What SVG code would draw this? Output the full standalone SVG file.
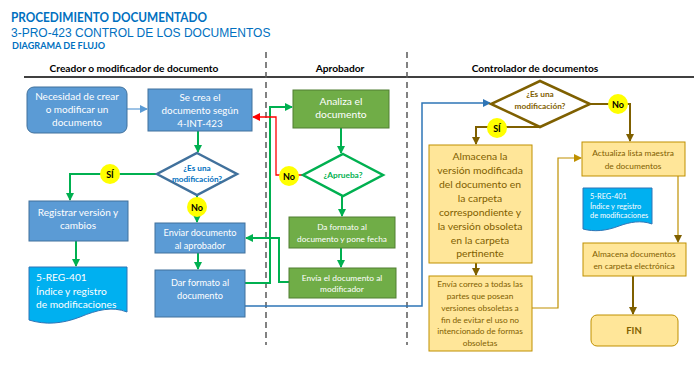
<svg xmlns="http://www.w3.org/2000/svg" width="700" height="367" viewBox="0 0 700 367">
<defs>
<style>
text{font-family:Lato,"Liberation Sans",sans-serif}
.hd{font-weight:bold;font-size:10.2px;fill:#000;text-anchor:middle}
.wt{fill:#fff;text-anchor:middle}
.br{fill:#7F6000;text-anchor:middle}
.bbox{fill:#5B9BD5;stroke:#41719C;stroke-width:1}
.gbox{fill:#70AD47;stroke:#507E32;stroke-width:1}
.ybox{fill:#FFE699;stroke:#BF9000;stroke-width:1}
.doc{fill:#00B0F0;stroke:#2E75B6;stroke-width:1}
.yc{fill:#FFFF00}
.lbl{font-weight:bold;font-size:9px;fill:#000;text-anchor:middle}
.g{fill:none;stroke:#00B050;stroke-width:2}
.r{fill:none;stroke:#FF0000;stroke-width:1.3}
.b{fill:none;stroke:#2E75B6;stroke-width:1.5}
.bl{fill:none;stroke:#5B9BD5;stroke-width:1.2}
.k{fill:none;stroke:#7F6000;stroke-width:2}
.kt{fill:none;stroke:#BF9000;stroke-width:1.2}
.dash{stroke:#595959;stroke-width:1.5;stroke-dasharray:6,4}
</style>
<marker id="ag" markerWidth="8" markerHeight="8" refX="7" refY="4" orient="auto" markerUnits="userSpaceOnUse"><path d="M0,0 L8,4 L0,8 Z" fill="#00B050"/></marker>
<marker id="ar" markerWidth="8" markerHeight="8" refX="7" refY="4" orient="auto" markerUnits="userSpaceOnUse"><path d="M0,0 L8,4 L0,8 Z" fill="#FF0000"/></marker>
<marker id="ab" markerWidth="8" markerHeight="8" refX="7" refY="4" orient="auto" markerUnits="userSpaceOnUse"><path d="M0,0 L8,4 L0,8 Z" fill="#2E75B6"/></marker>
<marker id="abl" markerWidth="8" markerHeight="8" refX="7" refY="4" orient="auto" markerUnits="userSpaceOnUse"><path d="M0,0 L8,4 L0,8 Z" fill="#5B9BD5"/></marker>
<marker id="ak" markerWidth="8" markerHeight="8" refX="7" refY="4" orient="auto" markerUnits="userSpaceOnUse"><path d="M0,0 L8,4 L0,8 Z" fill="#7F6000"/></marker>
<marker id="akt" markerWidth="8" markerHeight="8" refX="7" refY="4" orient="auto" markerUnits="userSpaceOnUse"><path d="M0,0 L8,4 L0,8 Z" fill="#BF9000"/></marker>
</defs>
<rect width="700" height="367" fill="#fff"/>

<g id="header">
<text x="11" y="21.5" textLength="196" lengthAdjust="spacingAndGlyphs" style="font-weight:bold;font-size:14px;fill:#0070C0">PROCEDIMIENTO DOCUMENTADO</text>
<text x="11" y="37" style="font-family:'Liberation Sans',sans-serif;font-size:12px;fill:#0070C0">3-PRO-423 CONTROL DE LOS DOCUMENTOS</text>
<text x="12" y="48.5" textLength="93" lengthAdjust="spacingAndGlyphs" style="font-weight:bold;font-size:10px;fill:#0070C0">DIAGRAMA DE FLUJO</text>
</g>

<g id="lanes">
<text class="hd" x="134" y="72">Creador o modificador de documento</text>
<text class="hd" x="340" y="72">Aprobador</text>
<text class="hd" x="535" y="72">Controlador de documentos</text>
<line x1="24" y1="77" x2="694" y2="77" stroke="#000" stroke-width="1.5"/>
<line class="dash" x1="266" y1="52" x2="266" y2="345"/>
<line class="dash" x1="407" y1="52" x2="407" y2="345"/>
</g>

<g id="connectors">
<path class="bl" d="M127,109 H147" marker-end="url(#abl)"/>
<path class="g" d="M198,131 V152" marker-end="url(#ag)"/>
<path class="g" d="M157,174 H70 V200" marker-end="url(#ag)"/>
<path class="g" d="M76,241 V266" stroke-width="2.5" marker-end="url(#ag)"/>
<path class="g" d="M197,195 V222" marker-end="url(#ag)"/>
<path class="g" d="M198,253 V269" stroke="#5CD07C" stroke-width="1.5" marker-end="url(#ag)"/>
<path class="g" d="M245,283 H270 V107 H292" marker-end="url(#ag)"/>
<path class="g" d="M341,128 V153" marker-end="url(#ag)"/>
<path class="r" d="M303,175 H276 V117 H253" marker-end="url(#ar)"/>
<path class="g" d="M342,196 V216" marker-end="url(#ag)"/>
<path class="g" d="M341,248 V267" marker-end="url(#ag)"/>
<path class="g" d="M289,282 H279 V238 H246" marker-end="url(#ag)"/>
<path class="b" d="M245,306 H422 V103 H490" marker-end="url(#ab)"/>
<path class="k" d="M590,104 H630 V141" marker-end="url(#ak)"/>
<path class="k" d="M540,127 H476 V144" marker-end="url(#ak)"/>
<path class="k" d="M476,263 V275" marker-end="url(#ak)"/>
<path class="kt" d="M532,308 H558 V158 H581" marker-end="url(#akt)"/>
<path class="kt" d="M678,176 V242" stroke="#7F6000" marker-end="url(#ak)"/>
<path class="k" d="M633,276 V314" marker-end="url(#ak)"/>
</g>

<g id="lbl-si1"><circle class="yc" cx="110" cy="174" r="10"/><text class="lbl" x="110" y="177.5">SÍ</text></g>
<g id="lbl-no1"><circle class="yc" cx="197" cy="207" r="10"/><text class="lbl" x="197" y="210.5">No</text></g>
<g id="lbl-no2"><circle class="yc" cx="289" cy="176" r="10"/><text class="lbl" x="289" y="179.5">No</text></g>
<g id="lbl-no3"><circle class="yc" cx="618" cy="104" r="10"/><text class="lbl" x="618" y="107.5">No</text></g>
<g id="lbl-si2"><circle class="yc" cx="497" cy="128" r="10"/><text class="lbl" x="497" y="131.5">SÍ</text></g>

<g id="n-necesidad">
<rect class="bbox" x="27" y="87" width="100" height="46" rx="7"/>
<text class="wt" style="font-size:10px"><tspan x="77" y="100">Necesidad de crear</tspan><tspan x="77" y="113">o modificar un</tspan><tspan x="77" y="126">documento</tspan></text>
</g>
<g id="n-secrea">
<rect class="bbox" x="148" y="89" width="104" height="42"/>
<text class="wt" style="font-size:9.8px"><tspan x="200" y="101">Se crea el</tspan><tspan x="200" y="114">documento según</tspan><tspan x="200" y="127">4-INT-423</tspan></text>
</g>
<g id="n-esmod1">
<path d="M197,153 L237,174 L197,195 L157,174 Z" fill="#fff" stroke="#41719C" stroke-width="2.5"/>
<text style="font-size:8.2px;font-weight:bold;fill:#0070C0;text-anchor:middle"><tspan x="197" y="171">¿Es una</tspan><tspan x="197" y="182">modificación?</tspan></text>
</g>
<g id="n-registrar">
<rect class="bbox" x="29" y="201" width="99" height="40"/>
<text class="wt" style="font-size:10px"><tspan x="78" y="216">Registrar versión y</tspan><tspan x="78" y="229">cambios</tspan></text>
</g>
<g id="n-reg401a">
<path class="doc" d="M29,267 H127 V312 C112,306 97,310 80,317 C62,324 45,325 29,320 Z"/>
<text style="font-size:10.2px;fill:#fff"><tspan x="36" y="281">5-REG-401</tspan><tspan x="36" y="295">Índice y registro</tspan><tspan x="36" y="308">de modificaciones</tspan></text>
</g>
<g id="n-enviar">
<rect class="bbox" x="155" y="223" width="90" height="30"/>
<text class="wt" style="font-size:9.2px"><tspan x="200" y="235.5">Enviar documento</tspan><tspan x="200" y="248.5">al aprobador</tspan></text>
</g>
<g id="n-darformato">
<rect class="bbox" x="155" y="270" width="90" height="47"/>
<text class="wt" style="font-size:9.2px"><tspan x="200" y="286">Dar formato al</tspan><tspan x="200" y="299">documento</tspan></text>
</g>

<g id="n-analiza">
<rect class="gbox" x="293" y="90" width="96" height="38"/>
<text class="wt" style="font-size:10.3px"><tspan x="341" y="105">Analiza el</tspan><tspan x="341" y="118">documento</tspan></text>
</g>
<g id="n-aprueba">
<path d="M343,154 L383,175 L343,196 L303,175 Z" fill="#fff" stroke="#00B050" stroke-width="2.5"/>
<text style="font-size:8.3px;font-weight:bold;fill:#00B050;text-anchor:middle" x="343" y="178">¿Aprueba?</text>
</g>
<g id="n-daformato">
<rect class="gbox" x="289" y="217" width="106" height="31"/>
<text class="wt" style="font-size:8.3px"><tspan x="342" y="229.5">Da formato al</tspan><tspan x="342" y="241.5">documento y pone fecha</tspan></text>
</g>
<g id="n-envia">
<rect class="gbox" x="289" y="268" width="107" height="30"/>
<text class="wt" style="font-size:8.4px"><tspan x="342" y="280.5">Envía el documento al</tspan><tspan x="342" y="292">modificador</tspan></text>
</g>

<g id="n-esmod2">
<path d="M540,81 L590,104 L540,127 L491,104 Z" fill="#fff" stroke="#7F6000" stroke-width="2.5"/>
<text style="font-size:8.3px;font-weight:bold;fill:#7F6000;text-anchor:middle"><tspan x="540" y="97">¿Es una</tspan><tspan x="540" y="109">modificación?</tspan></text>
</g>
<g id="n-almacena">
<rect class="ybox" x="429" y="145" width="103" height="118"/>
<text class="br" style="font-size:10.4px"><tspan x="480" y="160">Almacena la</tspan><tspan x="480" y="174">versión modificada</tspan><tspan x="480" y="188">del documento en</tspan><tspan x="480" y="202">la carpeta</tspan><tspan x="480" y="216">correspondiente y</tspan><tspan x="480" y="230">la versión obsoleta</tspan><tspan x="480" y="244">en la carpeta</tspan><tspan x="480" y="257">pertinente</tspan></text>
</g>
<g id="n-enviacorreo">
<rect class="ybox" x="429" y="276" width="103" height="75"/>
<text class="br" style="font-size:8.3px"><tspan x="480" y="287">Envía correo a todas las</tspan><tspan x="480" y="299">partes que posean</tspan><tspan x="480" y="311">versiones obsoletas a</tspan><tspan x="480" y="322.5">fin de evitar el uso no</tspan><tspan x="480" y="334">intencionado de formas</tspan><tspan x="480" y="346">obsoletas</tspan></text>
</g>
<g id="n-actualiza">
<rect class="ybox" x="582" y="142" width="103" height="34"/>
<text class="br" style="font-size:8.4px"><tspan x="633" y="156">Actualiza lista maestra</tspan><tspan x="633" y="169">de documentos</tspan></text>
</g>
<g id="n-reg401b">
<path class="doc" d="M583,188 H652 V224 C641,220 630,222 619,226 C606,231 594,232 583,229 Z"/>
<text style="font-size:7.4px;fill:#fff"><tspan x="590" y="199">5-REG-401</tspan><tspan x="590" y="208.5">Índice y registro</tspan><tspan x="590" y="217.5">de modificaciones</tspan></text>
</g>
<g id="n-almacenadocs">
<rect class="ybox" x="583" y="243" width="103" height="33"/>
<text class="br" style="font-size:8.4px"><tspan x="634" y="256.5">Almacena documentos</tspan><tspan x="634" y="269">en carpeta electrónica</tspan></text>
</g>
<g id="n-fin">
<rect class="ybox" x="591" y="315" width="87" height="31" rx="6"/>
<text class="br" style="font-size:9.5px;font-weight:bold" x="634" y="334">FIN</text>
</g>
</svg>
